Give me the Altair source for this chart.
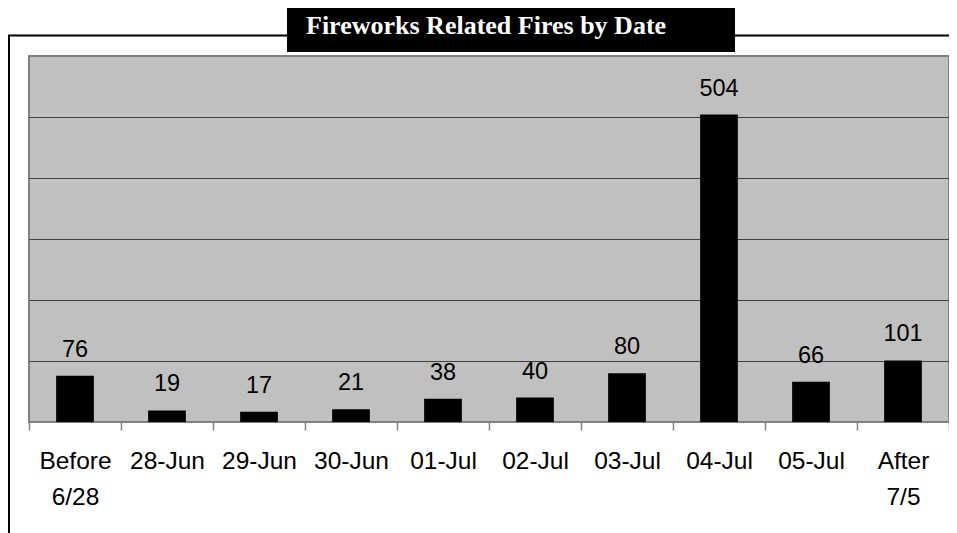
import altair as alt
import pandas as pd

categories = ["Before 6/28", "28-Jun", "29-Jun", "30-Jun", "01-Jul", "02-Jul",
              "03-Jul", "04-Jul", "05-Jul", "After 7/5"]
fires = [76, 19, 17, 21, 38, 40, 80, 504, 66, 101]
title_text = "Fireworks Related Fires by Date"

df = pd.DataFrame({"date": categories, "fires": fires})
one = pd.DataFrame({"a": [0]})

W, H = 920, 366

x_enc = alt.X("date:N", sort=categories, title=None,
              scale=alt.Scale(paddingInner=0, paddingOuter=0),
              axis=alt.Axis(labelAngle=0, labelFont="Liberation Sans", labelFontSize=24.5,
                            labelColor="#000000", labelLineHeight=36,
                            labelExpr="split(datum.label, ' ')",
                            labelPadding=19, tickBand="extent", tickSize=8,
                            tickColor="#808080", tickWidth=1.5, domain=False,
                            grid=False, labelBaseline="top"))
y_enc = alt.Y("fires:Q", title=None,
              scale=alt.Scale(domain=[0, 600], nice=False, zero=True),
              axis=alt.Axis(values=[100, 200, 300, 400, 500], labels=False, ticks=False,
                            domain=False, grid=True, gridColor="#404040", gridWidth=1))

bars = alt.Chart(df).mark_bar(color="#000000", width=alt.RelativeBandSize(0.41)).encode(
    x=x_enc, y=y_enc)

labels = alt.Chart(df).mark_text(font="Liberation Sans", fontSize=23.5, color="#000000",
                                 baseline="alphabetic", dy=-19).encode(
    x=alt.X("date:N", sort=categories),
    y=alt.Y("fires:Q"),
    text="fires:Q")

frame_left = alt.Chart(one).mark_rule(color="#000000", strokeWidth=2).encode(
    x=alt.value(-20), y=alt.value(-20.5), y2=alt.value(480))
frame_top = alt.Chart(one).mark_rule(color="#000000", strokeWidth=2).encode(
    x=alt.value(-21), x2=alt.value(930), y=alt.value(-20.5))
title_box = alt.Chart(one).mark_rect(color="#000000").encode(
    x=alt.value(258), x2=alt.value(706), y=alt.value(-52), y2=alt.value(-4))
title = alt.Chart(one).mark_text(font="Liberation Serif", fontWeight="bold", fontSize=26,
                                 color="#ffffff", align="left", baseline="alphabetic").encode(
    x=alt.value(277), y=alt.value(-22), text=alt.value(title_text))

chart = alt.layer(bars, labels, frame_left, frame_top, title_box, title).properties(
    width=W, height=H,
    background="#ffffff",
    autosize=alt.AutoSizeParams(type="none"),
    padding={"left": 21, "top": 48, "right": 0, "bottom": 111},
).configure_view(fill="#C0C0C0", stroke="#808080", strokeWidth=2)

chart.save("out.html", embed_options={"renderer": "svg", "actions": False})
